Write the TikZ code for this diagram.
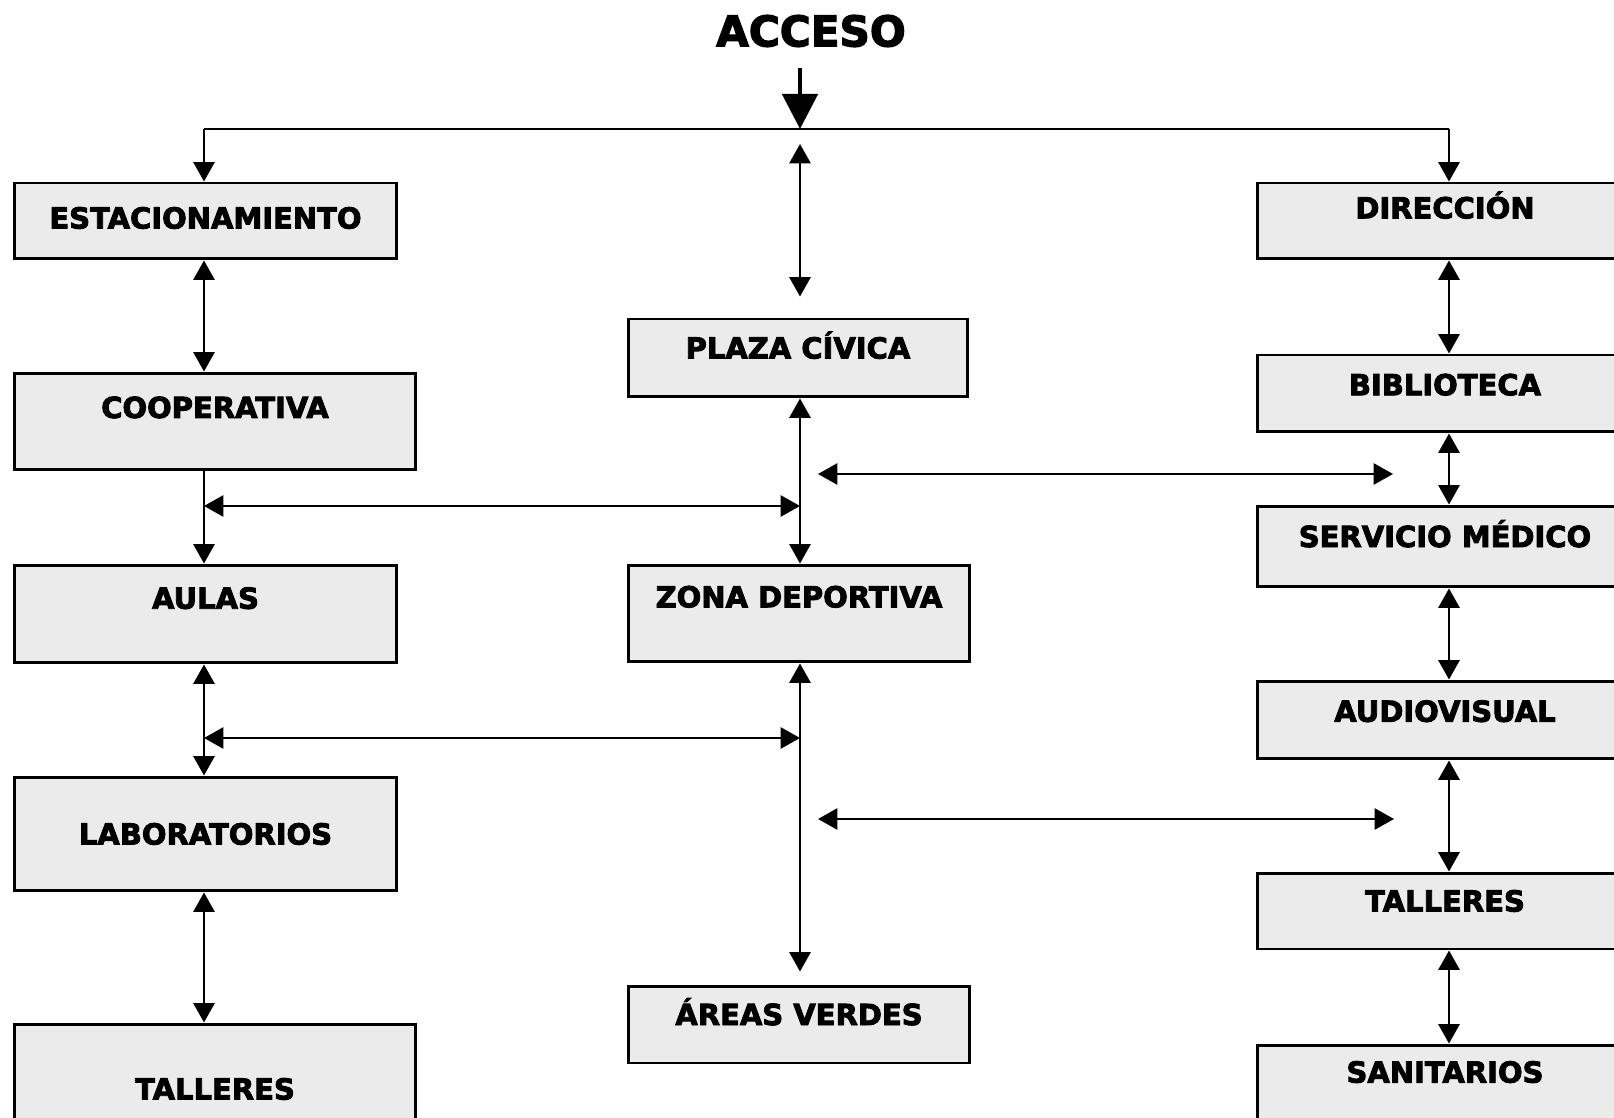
\documentclass[tikz,border=0pt]{standalone}
\usepackage{fontspec}
\setmainfont{DejaVu Sans}
\newfontfamily\blackfont{DejaVu Sans}[BoldFeatures={FakeBold=3}]
\usetikzlibrary{arrows.meta, positioning}

\begin{document}
\begin{tikzpicture}[x=0.02cm, y=-0.02cm,
    area/.style={rectangle, draw=black, line width=1.7pt, fill=black!8,
                 font=\fontsize{16.5}{18}\selectfont\blackfont\bfseries, text centered,
                 text height=12pt, text depth=#1},
    area/.default=0pt,
    arr/.style={-{Triangle[length=11pt, width=12pt]}, line width=1.3pt},
    dbl/.style={{Triangle[length=11pt, width=12pt]}-{Triangle[length=11pt, width=12pt]},
                line width=1.3pt},
  ]
    \useasboundingbox (0,0) rectangle (1614,1118);
    \clip (0,0) rectangle (1614,1118);

    % Acceso
    \node[font=\fontsize{24}{28}\selectfont\blackfont\bfseries] (acceso) at (811,31) {ACCESO};
    \coordinate (top) at (800,129);
    \coordinate (tl) at (204,129);
    \coordinate (tr) at (1449,129);

    % Columna izquierda
    \node[area=3.4pt, minimum width=7.66cm, minimum height=1.52cm] (est)   at (205.5,221)  {ESTACIONAMIENTO};
    \node[area=16pt,  minimum width=8.04cm, minimum height=1.94cm] (coop)  at (215,421.5)  {COOPERATIVA};
    \node[area=18pt,  minimum width=7.66cm, minimum height=1.96cm] (aulas) at (205.5,614)  {AULAS};
    \node[area,       minimum width=7.66cm, minimum height=2.28cm] (lab)   at (205.5,834)  {LABORATORIOS};
    \node[area,       minimum width=8.04cm, minimum height=2.6cm]  (tallI) at (215,1089)   {TALLERES};

    % Columna central
    \node[area=11.4pt, minimum width=6.8cm,  minimum height=1.56cm] (plaza) at (798,358)    {PLAZA CÍVICA};
    \node[area=19pt,   minimum width=6.84cm, minimum height=1.94cm] (zona)  at (799,613.5)  {ZONA DEPORTIVA};
    \node[area=11.4pt, minimum width=6.84cm, minimum height=1.54cm] (areas) at (799,1024.5) {ÁREAS VERDES};

    % Columna derecha
    \node[area=15pt,   minimum width=7.5cm, minimum height=1.52cm] (dir)   at (1445,221)   {DIRECCIÓN};
    \node[area=10pt,   minimum width=7.5cm, minimum height=1.54cm] (bib)   at (1445,393.5) {BIBLIOTECA};
    \node[area=11.4pt, minimum width=7.5cm, minimum height=1.62cm] (serv)  at (1445,546.5) {SERVICIO MÉDICO};
    \node[area=10pt,   minimum width=7.5cm, minimum height=1.56cm] (audio) at (1445,720)   {AUDIOVISUAL};
    \node[area=11.4pt, minimum width=7.5cm, minimum height=1.52cm] (tallD) at (1445,911)   {TALLERES};
    \node[area=17pt,   minimum width=7.5cm, minimum height=1.68cm] (san)   at (1445,1087)  {SANITARIOS};

    % Llegada y reparto
    \draw[-{Triangle[length=20pt, width=20pt]}, line width=2.8pt, shorten <=0.3cm]
      (acceso.south -| top) -- (top);
    \draw[line width=1.1pt] (tl) -- (tr);
    \draw[arr] (tl) -- (est.north -| tl);
    \draw[arr] (tr) -- (dir.north -| tr);
    \draw[dbl, shorten <=0.3cm, shorten >=0.42cm] (top) -- (plaza.north -| top);

    % Flechas izquierda
    \draw[dbl] (est.south -| tl) -- (coop.north -| tl);
    \draw[arr] (coop.south -| tl) -- (aulas.north -| tl);
    \draw[dbl] (aulas.south -| tl) -- (lab.north -| tl);
    \draw[dbl] (lab.south -| tl) -- (tallI.north -| tl);

    % Flechas centro
    \draw[dbl] (plaza.south -| top) -- (zona.north -| top);
    \draw[dbl, shorten >=0.26cm] (zona.south -| top) -- (areas.north -| top);

    % Flechas derecha
    \foreach \a/\b in {dir/bib, bib/serv, serv/audio, audio/tallD, tallD/san}
      \draw[dbl] (\a.south -| tr) -- (\b.north -| tr);

    % Enlaces horizontales
    \coordinate (h1) at (204,506);
    \coordinate (h2) at (204,738);
    \draw[dbl] (h1) -- (h1 -| top);
    \draw[dbl] (h2) -- (h2 -| top);
    \coordinate (r1a) at (818,474);
    \coordinate (r1b) at (1393,474);
    \coordinate (r2a) at (818,819);
    \coordinate (r2b) at (1394,819);
    \draw[dbl] (r1a) -- (r1b);
    \draw[dbl] (r2a) -- (r2b);
  \end{tikzpicture}
\end{document}
